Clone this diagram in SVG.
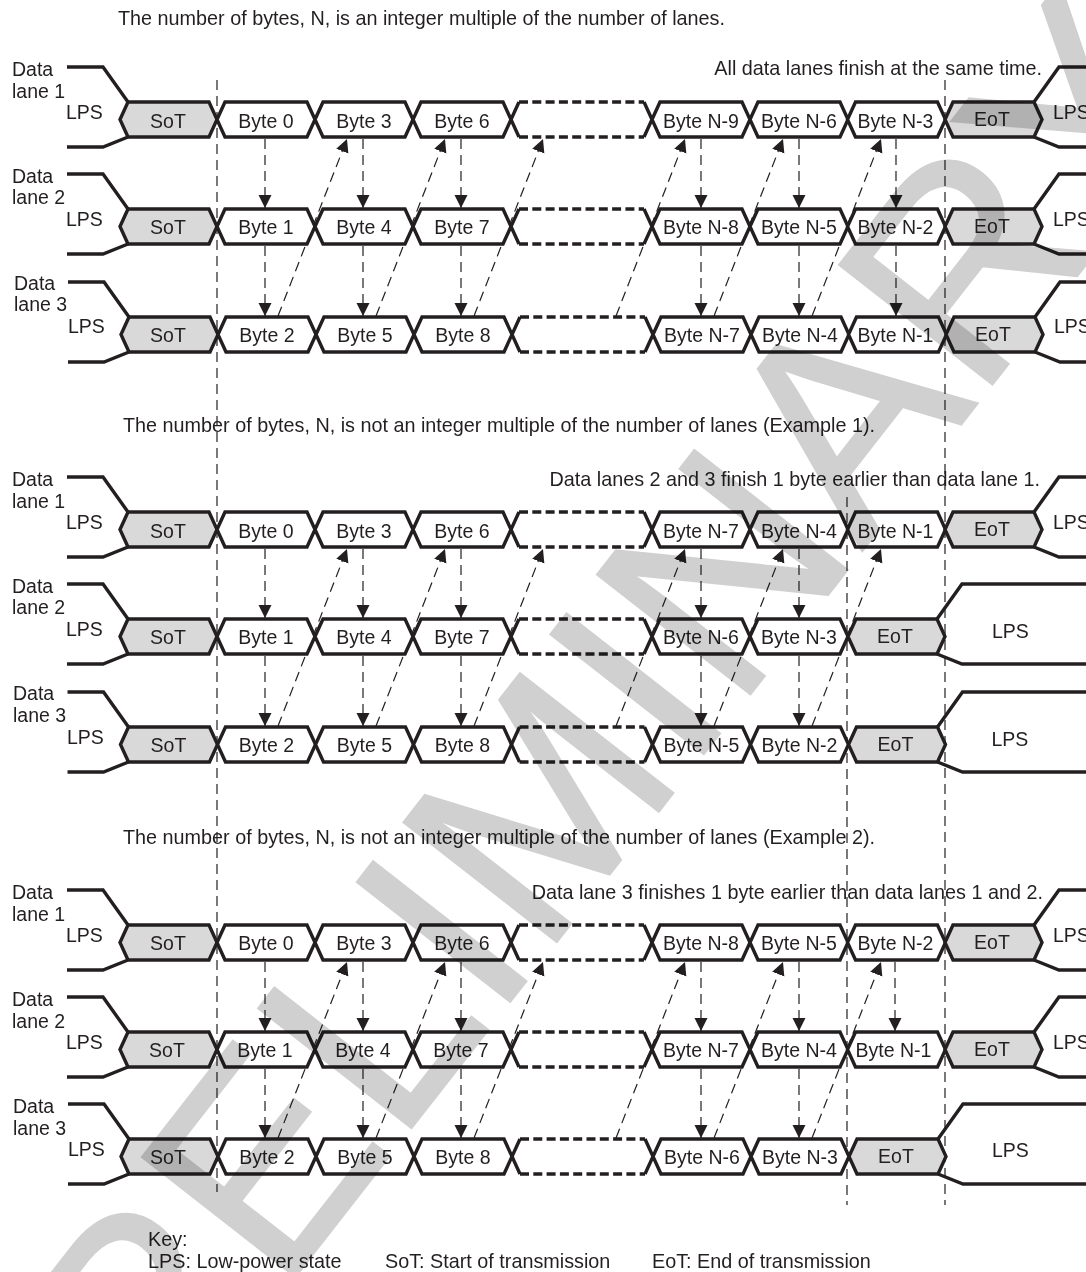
<svg xmlns="http://www.w3.org/2000/svg" width="1086" height="1272" viewBox="0 0 1086 1272">
<style>
text{font-family:"Liberation Sans",Arial,sans-serif;font-size:19.500px;fill:#231f20}
#headings text,#key text{font-size:19.800px}
.m{text-anchor:middle}
.e{text-anchor:end}
text.wm{font-size:283px;fill:#d0d0d0;stroke:#d0d0d0;stroke-width:2px;mix-blend-mode:multiply}
.h{fill:#fff;stroke:#231f20;stroke-width:3.400}
.g{fill:#d9d9d9;stroke:#231f20;stroke-width:3.400}
.l{fill:none;stroke:#231f20;stroke-width:3.400}
.b{fill:none;stroke:#231f20;stroke-width:3.400;stroke-dasharray:9 4.300}
.w{fill:#fff}
.d{stroke:#231f20;stroke-width:1.200;stroke-dasharray:10 6;fill:none}
.a{stroke:#231f20;stroke-width:1.200;stroke-dasharray:10 6;fill:none;marker-end:url(#ah)}
</style>
<defs>
<marker id="ah" markerUnits="userSpaceOnUse" markerWidth="14" markerHeight="14" refX="13" refY="6.500" orient="auto"><path d="M0 0L13 6.500L0 13Z" fill="#231f20"/></marker>
<path id="hex" class="h" d="M0 17.500L8 0H90L98 17.500L90 35H8Z"/>
<path id="sig" class="g" d="M0 17.500L8 0H89L97 17.500L89 35H8Z"/>
<g id="blank"><rect class="w" x="8" y="0" width="125" height="35"/><path class="l" d="M8 0L0 17.500L8 35M133 0L141 17.500L133 35"/><path class="b" d="M8 0H133M8 35H133"/></g>
<path id="ll" class="l" d="M-53 -35H-17L8 0M-53 45H-17L8 35"/>
<path id="lr" class="l" d="M89 0L114 -35H300M89 35L114 45H300"/>
</defs>
<rect width="1086" height="1272" fill="#fff"/>
<g id="connectors">
<path class="d" d="M217 80V1192M847 497V1205M945 80V1205"/>
<path class="a" d="M265 139V208"/><path class="a" d="M363 139V208"/><path class="a" d="M461 139V208"/><path class="a" d="M701 139V208"/><path class="a" d="M799 139V208"/><path class="a" d="M896 139V208"/>
<path class="a" d="M265 246V316"/><path class="a" d="M363 246V316"/><path class="a" d="M461 246V316"/><path class="a" d="M701 246V316"/><path class="a" d="M799 246V316"/><path class="a" d="M896 246V316"/>
<path class="a" d="M278 316L347 139"/><path class="a" d="M376 316L445 139"/><path class="a" d="M474 316L543 139"/><path class="a" d="M616 316L685 139"/><path class="a" d="M714 316L783 139"/><path class="a" d="M812 316L881 139"/>
<path class="a" d="M265 549V618"/><path class="a" d="M363 549V618"/><path class="a" d="M461 549V618"/><path class="a" d="M701 549V618"/><path class="a" d="M799 549V618"/>
<path class="a" d="M265 656V726"/><path class="a" d="M363 656V726"/><path class="a" d="M461 656V726"/><path class="a" d="M701 656V726"/><path class="a" d="M799 656V726"/>
<path class="a" d="M278 726L347 549"/><path class="a" d="M376 726L445 549"/><path class="a" d="M474 726L543 549"/><path class="a" d="M616 726L685 549"/><path class="a" d="M714 726L783 549"/><path class="a" d="M812 726L881 549"/>
<path class="a" d="M265 962V1031"/><path class="a" d="M363 962V1031"/><path class="a" d="M461 962V1031"/><path class="a" d="M701 962V1031"/><path class="a" d="M799 962V1031"/><path class="a" d="M895 962V1031"/>
<path class="a" d="M265 1069V1138"/><path class="a" d="M363 1069V1138"/><path class="a" d="M461 1069V1138"/><path class="a" d="M701 1069V1138"/><path class="a" d="M799 1069V1138"/>
<path class="a" d="M278 1138L347 962"/><path class="a" d="M376 1138L445 962"/><path class="a" d="M474 1138L543 962"/><path class="a" d="M616 1138L685 962"/><path class="a" d="M714 1138L783 962"/><path class="a" d="M812 1138L881 962"/>
</g>

<g id="headings">
<text x="118" y="25">The number of bytes, N, is an integer multiple of the number of lanes.</text>
<text class="e" x="1042" y="75">All data lanes finish at the same time.</text>
<text x="123" y="432">The number of bytes, N, is not an integer multiple of the number of lanes (Example 1).</text>
<text class="e" x="1040" y="486">Data lanes 2 and 3 finish 1 byte earlier than data lane 1.</text>
<text x="123" y="844">The number of bytes, N, is not an integer multiple of the number of lanes (Example 2).</text>
<text class="e" x="1043" y="899">Data lane 3 finishes 1 byte earlier than data lanes 1 and 2.</text>
</g>

<g id="a1-label"><text x="12" y="76">Data</text><text x="12" y="98">lane 1</text><text x="66" y="119">LPS</text></g>
<g id="a2-label"><text x="12" y="183">Data</text><text x="12" y="204">lane 2</text><text x="66" y="226">LPS</text></g>
<g id="a3-label"><text x="14" y="290">Data</text><text x="14" y="311">lane 3</text><text x="68" y="333">LPS</text></g>
<g id="b1-label"><text x="12" y="486">Data</text><text x="12" y="508">lane 1</text><text x="66" y="529">LPS</text></g>
<g id="b2-label"><text x="12" y="593">Data</text><text x="12" y="614">lane 2</text><text x="66" y="636">LPS</text></g>
<g id="b3-label"><text x="13" y="700">Data</text><text x="13" y="722">lane 3</text><text x="67" y="744">LPS</text></g>
<g id="c1-label"><text x="12" y="899">Data</text><text x="12" y="921">lane 1</text><text x="66" y="942">LPS</text></g>
<g id="c2-label"><text x="12" y="1006">Data</text><text x="12" y="1028">lane 2</text><text x="66" y="1049">LPS</text></g>
<g id="c3-label"><text x="13" y="1113">Data</text><text x="13" y="1135">lane 3</text><text x="68" y="1156">LPS</text></g>

<g id="a1-sot" transform="translate(120,102)"><use href="#ll"/><use href="#sig"/><text class="m" x="48" y="26">SoT</text></g>
<g id="a1-b0" transform="translate(217,102)"><use href="#hex"/><text class="m" x="49" y="26">Byte 0</text></g>
<g id="a1-b3" transform="translate(315,102)"><use href="#hex"/><text class="m" x="49" y="26">Byte 3</text></g>
<g id="a1-b6" transform="translate(413,102)"><use href="#hex"/><text class="m" x="49" y="26">Byte 6</text></g>
<g id="a1-gap" transform="translate(511,102)"><use href="#blank"/></g>
<g id="a1-n9" transform="translate(652,102)"><use href="#hex"/><text class="m" x="49" y="26">Byte N-9</text></g>
<g id="a1-n6" transform="translate(750,102)"><use href="#hex"/><text class="m" x="49" y="26">Byte N-6</text></g>
<g id="a1-n3" transform="translate(847.500,102)"><use href="#hex"/><text class="m" x="48" y="26">Byte N-3</text></g>
<g id="a1-eot" transform="translate(945,102)"><use href="#lr"/><use href="#sig"/><text class="m" x="47" y="24">EoT</text><text x="108" y="17">LPS</text></g>

<g id="a2-sot" transform="translate(120,209)"><use href="#ll"/><use href="#sig"/><text class="m" x="48" y="25">SoT</text></g>
<g id="a2-b1" transform="translate(217,209)"><use href="#hex"/><text class="m" x="49" y="25">Byte 1</text></g>
<g id="a2-b4" transform="translate(315,209)"><use href="#hex"/><text class="m" x="49" y="25">Byte 4</text></g>
<g id="a2-b7" transform="translate(413,209)"><use href="#hex"/><text class="m" x="49" y="25">Byte 7</text></g>
<g id="a2-gap" transform="translate(511,209)"><use href="#blank"/></g>
<g id="a2-n8" transform="translate(652,209)"><use href="#hex"/><text class="m" x="49" y="25">Byte N-8</text></g>
<g id="a2-n5" transform="translate(750,209)"><use href="#hex"/><text class="m" x="49" y="25">Byte N-5</text></g>
<g id="a2-n2" transform="translate(847.500,209)"><use href="#hex"/><text class="m" x="48" y="25">Byte N-2</text></g>
<g id="a2-eot" transform="translate(945,209)"><use href="#lr"/><use href="#sig"/><text class="m" x="47" y="24">EoT</text><text x="108" y="17">LPS</text></g>

<g id="a3-sot" transform="translate(121,317)"><use href="#ll"/><use href="#sig"/><text class="m" x="47" y="25">SoT</text></g>
<g id="a3-b2" transform="translate(218,317)"><use href="#hex"/><text class="m" x="49" y="25">Byte 2</text></g>
<g id="a3-b5" transform="translate(316,317)"><use href="#hex"/><text class="m" x="49" y="25">Byte 5</text></g>
<g id="a3-b8" transform="translate(414,317)"><use href="#hex"/><text class="m" x="49" y="25">Byte 8</text></g>
<g id="a3-gap" transform="translate(512,317)"><use href="#blank"/></g>
<g id="a3-n7" transform="translate(653,317)"><use href="#hex"/><text class="m" x="49" y="25">Byte N-7</text></g>
<g id="a3-n4" transform="translate(751,317)"><use href="#hex"/><text class="m" x="49" y="25">Byte N-4</text></g>
<g id="a3-n1" transform="translate(848.500,317)"><use href="#hex"/><text class="m" x="47" y="25">Byte N-1</text></g>
<g id="a3-eot" transform="translate(946,317)"><use href="#lr"/><use href="#sig"/><text class="m" x="47" y="24">EoT</text><text x="108" y="16">LPS</text></g>

<g id="b1-sot" transform="translate(120,512)"><use href="#ll"/><use href="#sig"/><text class="m" x="48" y="26">SoT</text></g>
<g id="b1-b0" transform="translate(217,512)"><use href="#hex"/><text class="m" x="49" y="26">Byte 0</text></g>
<g id="b1-b3" transform="translate(315,512)"><use href="#hex"/><text class="m" x="49" y="26">Byte 3</text></g>
<g id="b1-b6" transform="translate(413,512)"><use href="#hex"/><text class="m" x="49" y="26">Byte 6</text></g>
<g id="b1-gap" transform="translate(511,512)"><use href="#blank"/></g>
<g id="b1-n7" transform="translate(652,512)"><use href="#hex"/><text class="m" x="49" y="26">Byte N-7</text></g>
<g id="b1-n4" transform="translate(750,512)"><use href="#hex"/><text class="m" x="49" y="26">Byte N-4</text></g>
<g id="b1-n1" transform="translate(847.500,512)"><use href="#hex"/><text class="m" x="48" y="26">Byte N-1</text></g>
<g id="b1-eot" transform="translate(945,512)"><use href="#lr"/><use href="#sig"/><text class="m" x="47" y="24">EoT</text><text x="108" y="17">LPS</text></g>

<g id="b2-sot" transform="translate(120,619)"><use href="#ll"/><use href="#sig"/><text class="m" x="48" y="25">SoT</text></g>
<g id="b2-b1" transform="translate(217,619)"><use href="#hex"/><text class="m" x="49" y="25">Byte 1</text></g>
<g id="b2-b4" transform="translate(315,619)"><use href="#hex"/><text class="m" x="49" y="25">Byte 4</text></g>
<g id="b2-b7" transform="translate(413,619)"><use href="#hex"/><text class="m" x="49" y="25">Byte 7</text></g>
<g id="b2-gap" transform="translate(511,619)"><use href="#blank"/></g>
<g id="b2-n6" transform="translate(652,619)"><use href="#hex"/><text class="m" x="49" y="25">Byte N-6</text></g>
<g id="b2-n3" transform="translate(750,619)"><use href="#hex"/><text class="m" x="49" y="25">Byte N-3</text></g>
<g id="b2-eot" transform="translate(848,619)"><use href="#lr"/><use href="#sig"/><text class="m" x="47" y="24">EoT</text><text x="144" y="19">LPS</text></g>

<g id="b3-sot" transform="translate(120.500,727)"><use href="#ll"/><use href="#sig"/><text class="m" x="48" y="25">SoT</text></g>
<g id="b3-b2" transform="translate(217.500,727)"><use href="#hex"/><text class="m" x="49" y="25">Byte 2</text></g>
<g id="b3-b5" transform="translate(315.500,727)"><use href="#hex"/><text class="m" x="49" y="25">Byte 5</text></g>
<g id="b3-b8" transform="translate(413.500,727)"><use href="#hex"/><text class="m" x="49" y="25">Byte 8</text></g>
<g id="b3-gap" transform="translate(511.500,727)"><use href="#blank"/></g>
<g id="b3-n5" transform="translate(652.500,727)"><use href="#hex"/><text class="m" x="49" y="25">Byte N-5</text></g>
<g id="b3-n2" transform="translate(750.500,727)"><use href="#hex"/><text class="m" x="49" y="25">Byte N-2</text></g>
<g id="b3-eot" transform="translate(848.500,727)"><use href="#lr"/><use href="#sig"/><text class="m" x="47" y="24">EoT</text><text x="143" y="19">LPS</text></g>

<g id="c1-sot" transform="translate(120,925)"><use href="#ll"/><use href="#sig"/><text class="m" x="48" y="25">SoT</text></g>
<g id="c1-b0" transform="translate(217,925)"><use href="#hex"/><text class="m" x="49" y="25">Byte 0</text></g>
<g id="c1-b3" transform="translate(315,925)"><use href="#hex"/><text class="m" x="49" y="25">Byte 3</text></g>
<g id="c1-b6" transform="translate(413,925)"><use href="#hex"/><text class="m" x="49" y="25">Byte 6</text></g>
<g id="c1-gap" transform="translate(511,925)"><use href="#blank"/></g>
<g id="c1-n8" transform="translate(652,925)"><use href="#hex"/><text class="m" x="49" y="25">Byte N-8</text></g>
<g id="c1-n5" transform="translate(750,925)"><use href="#hex"/><text class="m" x="49" y="25">Byte N-5</text></g>
<g id="c1-n2" transform="translate(847.500,925)"><use href="#hex"/><text class="m" x="48" y="25">Byte N-2</text></g>
<g id="c1-eot" transform="translate(945,925)"><use href="#lr"/><use href="#sig"/><text class="m" x="47" y="24">EoT</text><text x="108" y="17">LPS</text></g>

<g id="c2-sot" transform="translate(120,1032)"><use href="#ll"/><use href="#sig"/><text class="m" x="47" y="25">SoT</text></g>
<g id="c2-b1" transform="translate(217,1032)"><use href="#hex"/><text class="m" x="48" y="25">Byte 1</text></g>
<g id="c2-b4" transform="translate(315,1032)"><use href="#hex"/><text class="m" x="48" y="25">Byte 4</text></g>
<g id="c2-b7" transform="translate(413,1032)"><use href="#hex"/><text class="m" x="48" y="25">Byte 7</text></g>
<g id="c2-gap" transform="translate(511,1032)"><use href="#blank"/></g>
<g id="c2-n7" transform="translate(652,1032)"><use href="#hex"/><text class="m" x="49" y="25">Byte N-7</text></g>
<g id="c2-n4" transform="translate(750,1032)"><use href="#hex"/><text class="m" x="49" y="25">Byte N-4</text></g>
<g id="c2-n1" transform="translate(847.500,1032)"><use href="#hex"/><text class="m" x="46" y="25">Byte N-1</text></g>
<g id="c2-eot" transform="translate(945,1032)"><use href="#lr"/><use href="#sig"/><text class="m" x="47" y="24">EoT</text><text x="108" y="17">LPS</text></g>

<g id="c3-sot" transform="translate(121,1139)"><use href="#ll"/><use href="#sig"/><text class="m" x="47" y="25">SoT</text></g>
<g id="c3-b2" transform="translate(218,1139)"><use href="#hex"/><text class="m" x="49" y="25">Byte 2</text></g>
<g id="c3-b5" transform="translate(316,1139)"><use href="#hex"/><text class="m" x="49" y="25">Byte 5</text></g>
<g id="c3-b8" transform="translate(414,1139)"><use href="#hex"/><text class="m" x="49" y="25">Byte 8</text></g>
<g id="c3-gap" transform="translate(512,1139)"><use href="#blank"/></g>
<g id="c3-n6" transform="translate(653,1139)"><use href="#hex"/><text class="m" x="49" y="25">Byte N-6</text></g>
<g id="c3-n3" transform="translate(751,1139)"><use href="#hex"/><text class="m" x="49" y="25">Byte N-3</text></g>
<g id="c3-eot" transform="translate(849,1139)"><use href="#lr"/><use href="#sig"/><text class="m" x="47" y="24">EoT</text><text x="143" y="18">LPS</text></g>

<g id="key">
<text x="148" y="1246">Key:</text>
<text x="148" y="1268">LPS: Low-power state</text>
<text x="385" y="1268">SoT: Start of transmission</text>
<text x="652" y="1268">EoT: End of transmission</text>
</g>
<text class="wm" transform="translate(39 1605) rotate(-52)">PRELIMINARY</text>
</svg>
